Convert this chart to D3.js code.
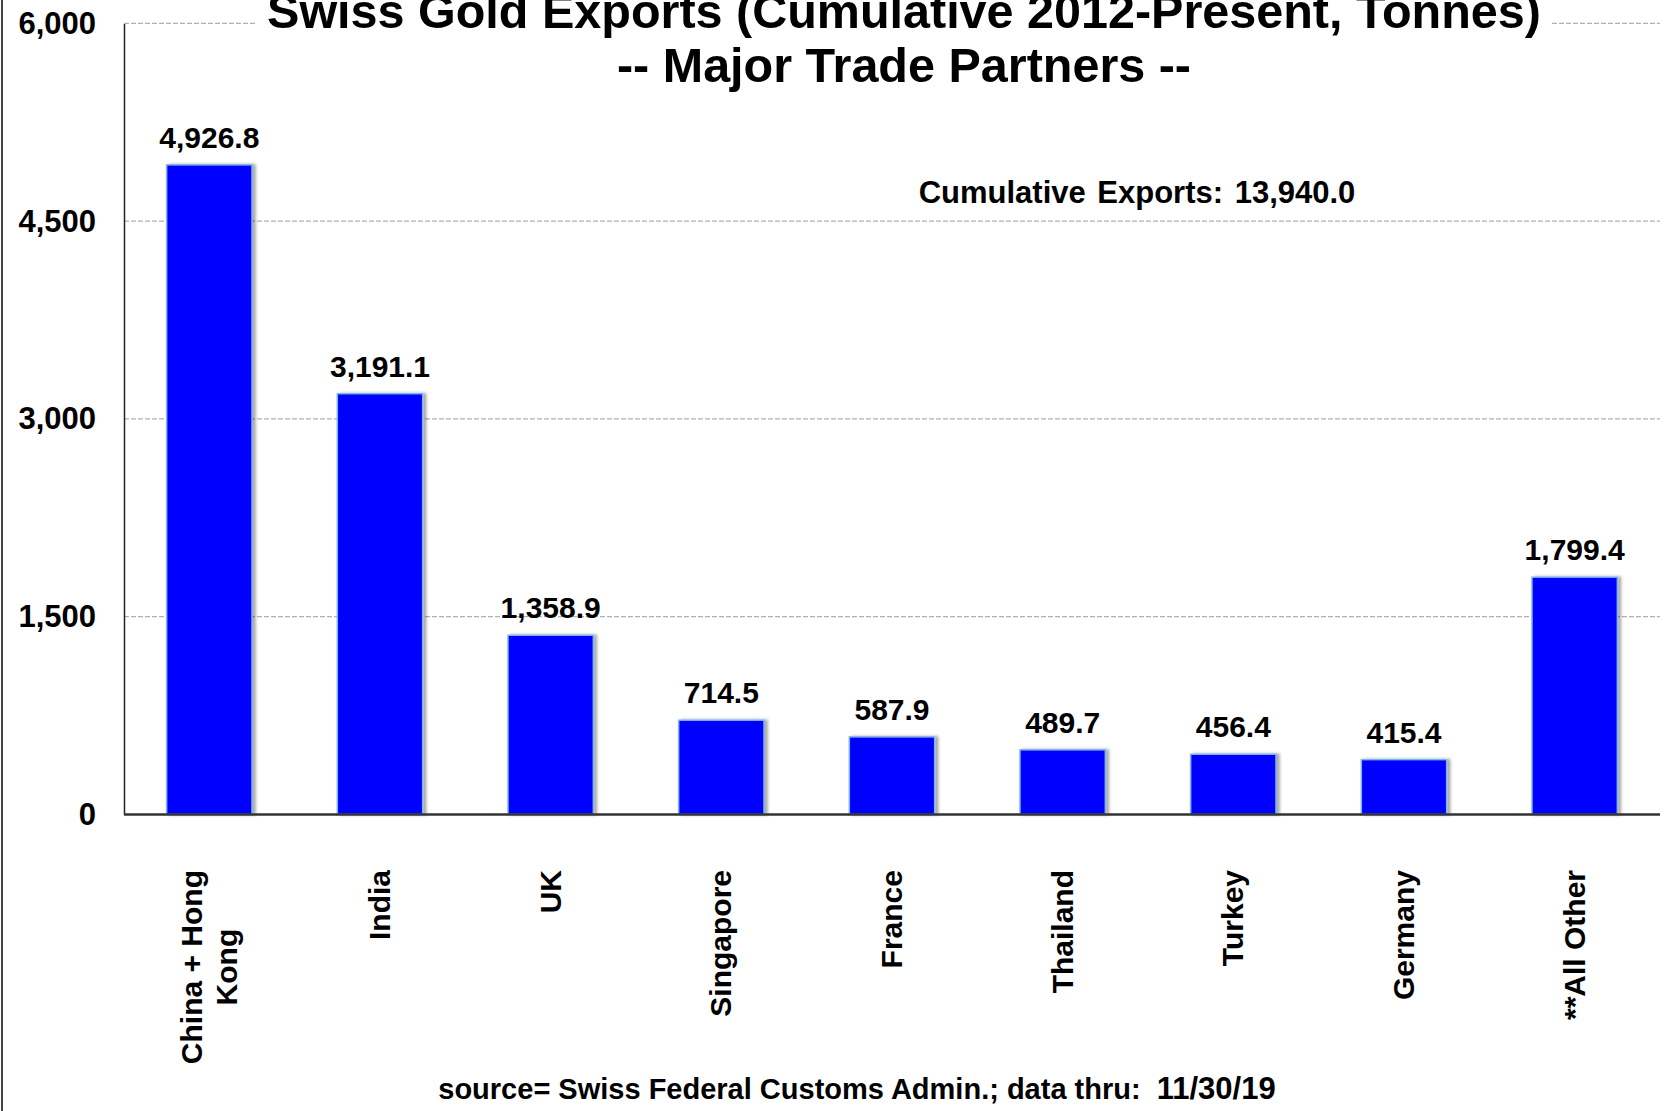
<!DOCTYPE html>
<html>
<head>
<meta charset="utf-8">
<script src="https://cdn.jsdelivr.net/npm/d3@7"></script>
<style>
  html, body { margin: 0; padding: 0; background: #fff; }
  svg { display: block; font-family: "Liberation Sans", Arial, sans-serif; }
</style>
</head>
<body>
<svg id="chart" width="1667" height="1111"></svg>
<script>
// ---- data ----
const categories = ["China + Hong Kong", "India", "UK", "Singapore", "France", "Thailand", "Turkey", "Germany", "**All Other"];
const categoryLines = [["China + Hong", "Kong"], ["India"], ["UK"], ["Singapore"], ["France"], ["Thailand"], ["Turkey"], ["Germany"], ["**All Other"]];
const exportsTonnes = [4926.8, 3191.1, 1358.9, 714.5, 587.9, 489.7, 456.4, 415.4, 1799.4];
const yTicks = [0, 1500, 3000, 4500, 6000];
const titleLines = ["Swiss Gold Exports (Cumulative 2012-Present, Tonnes)", "-- Major Trade Partners --"];
const cumulativeLabel = "Cumulative Exports: 13,940.0";
const sourceText = "source= Swiss Federal Customs Admin.; data thru:  ";
const dateText = "11/30/19";

// ---- layout ----
const W = 1667, H = 1111;
const plot = { left: 124, right: 1660, top: 23.4, bottom: 814.4 };
const svg = d3.select("#chart");

// frame line on left
svg.append("line").attr("x1", 2).attr("x2", 2).attr("y1", 0).attr("y2", H)
  .attr("stroke", "#444").attr("stroke-width", 2);

const x = d3.scaleBand().domain(categories).range([plot.left, plot.right])
  .paddingInner(0.5).paddingOuter(0.25);
const y = d3.scaleLinear().domain([0, 6000]).range([plot.bottom, plot.top]);
const fmt = d3.format(",.1f");

// gridlines
svg.append("g").selectAll("line").data(yTicks.filter(d => d > 0)).join("line")
  .attr("x1", plot.left).attr("x2", plot.right)
  .attr("y1", d => y(d)).attr("y2", d => y(d))
  .attr("stroke", "#b0b0b0").attr("stroke-width", 1.3).attr("stroke-dasharray", "5,2");

// y axis
const yAxis = d3.axisLeft(y).tickValues(yTicks).tickSize(0).tickPadding(28).tickFormat(d3.format(","));
const gy = svg.append("g").attr("transform", `translate(${plot.left},0)`).call(yAxis);
gy.select(".domain").attr("stroke", "#222").attr("stroke-width", 1.5);
gy.selectAll("text").attr("font-size", 31).attr("font-weight", "bold").attr("fill", "#000")
  .attr("font-family", "'Liberation Sans', Arial, sans-serif");

// shadow filter
const defs = svg.append("defs");
const f = defs.append("filter").attr("id", "shadow").attr("x", "-10%").attr("y", "-10%").attr("width", "130%").attr("height", "120%");
f.append("feDropShadow").attr("dx", 3).attr("dy", 0).attr("stdDeviation", 1.5).attr("flood-color", "#000").attr("flood-opacity", 0.35);

// bars
svg.append("g").selectAll("rect").data(exportsTonnes).join("rect")
  .attr("x", (d, i) => x(categories[i]))
  .attr("y", d => y(d))
  .attr("width", x.bandwidth())
  .attr("height", d => y(0) - y(d))
  .attr("fill", "#0000FF")
  .attr("stroke", "#7fb2e5").attr("stroke-width", 1.5)
  .attr("filter", "url(#shadow)");

// x axis line
svg.append("line").attr("x1", plot.left).attr("x2", plot.right)
  .attr("y1", plot.bottom).attr("y2", plot.bottom)
  .attr("stroke", "#333").attr("stroke-width", 2.5);

// value labels
svg.append("g").selectAll("text").data(exportsTonnes).join("text")
  .attr("x", (d, i) => x(categories[i]) + x.bandwidth() / 2)
  .attr("y", d => y(d) - 17)
  .attr("text-anchor", "middle")
  .attr("font-size", 30).attr("font-weight", "bold").attr("fill", "#000")
  .text(d => fmt(d));

// category labels (rotated)
const labelTop = 870, lineGap = 35;
categoryLines.forEach((lines, i) => {
  const cx = x(categories[i]) + x.bandwidth() / 2;
  const g = svg.append("g").attr("transform", `translate(${cx},${labelTop}) rotate(-90)`);
  const n = lines.length;
  const texts = lines.map((ln, j) => g.append("text")
    .attr("dy", ((j - (n - 1) / 2) * lineGap + 10) + "px")
    .attr("font-size", 30).attr("font-weight", "bold").attr("fill", "#000")
    .text(ln));
  const maxLen = d3.max(texts, t => t.node().getComputedTextLength());
  texts.forEach(t => t.attr("text-anchor", "middle").attr("x", -maxLen / 2));
});

// title
const titleG = svg.append("g");
const t1 = titleG.append("text").attr("x", 904).attr("y", 28).attr("text-anchor", "middle")
  .attr("font-size", 48.5).attr("font-weight", "bold").attr("fill", "#000").text(titleLines[0]);
const bb = t1.node().getBBox();
titleG.insert("rect", "text").attr("x", bb.x - 10).attr("y", 0).attr("width", bb.width + 20).attr("height", 40).attr("fill", "#fff");
titleG.append("text").attr("x", 904).attr("y", 82).attr("text-anchor", "middle")
  .attr("font-size", 48.5).attr("font-weight", "bold").attr("fill", "#000").text(titleLines[1]);

// cumulative annotation
svg.append("text").attr("x", 1137).attr("y", 203).attr("text-anchor", "middle")
  .attr("font-size", 31).attr("font-weight", "bold").attr("fill", "#000")
  .attr("word-spacing", 3)
  .text(cumulativeLabel);

// source
const src = svg.append("text").attr("x", 857).attr("y", 1099).attr("text-anchor", "middle")
  .attr("font-size", 29).attr("font-weight", "bold").attr("fill", "#000")
  .style("white-space", "pre");
src.append("tspan").text(sourceText);
src.append("tspan").attr("font-size", 31).text(dateText);
</script>
</body>
</html>
